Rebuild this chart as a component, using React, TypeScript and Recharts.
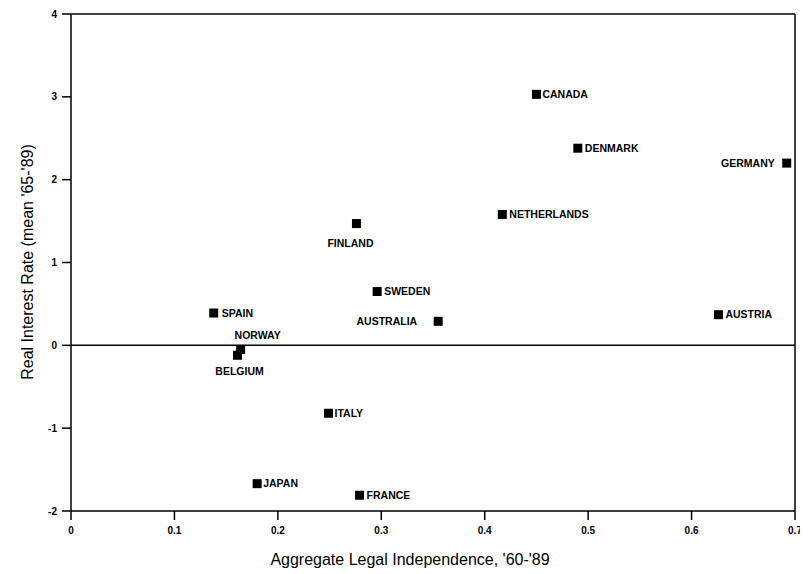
import { ReferenceLine, Scatter, ScatterChart, XAxis, YAxis } from 'recharts';

const countries = ['CANADA', 'DENMARK', 'GERMANY', 'NETHERLANDS', 'FINLAND', 'SWEDEN', 'AUSTRALIA', 'AUSTRIA', 'SPAIN', 'NORWAY', 'BELGIUM', 'ITALY', 'JAPAN', 'FRANCE'];
const independence = [0.45, 0.49, 0.692, 0.417, 0.276, 0.296, 0.355, 0.626, 0.138, 0.164, 0.161, 0.249, 0.18, 0.279];
const realRate = [3.03, 2.38, 2.2, 1.58, 1.47, 0.65, 0.29, 0.37, 0.39, -0.05, -0.12, -0.82, -1.67, -1.81];
const xTicks = [0, 0.1, 0.2, 0.3, 0.4, 0.5, 0.6, 0.7];
const yTicks = [-2, -1, 0, 1, 2, 3, 4];

const rows = countries.map((name, i) => ({ name, x: independence[i], y: realRate[i] }));

// where each country's label sits relative to its marker
const placement: Record<string, { dx: number; dy: number; anchor: 'start' | 'middle' | 'end' }> = {
  CANADA: { dx: 6, dy: 0, anchor: 'start' },
  DENMARK: { dx: 7, dy: 0, anchor: 'start' },
  GERMANY: { dx: -12, dy: 0, anchor: 'end' },
  NETHERLANDS: { dx: 7, dy: 0, anchor: 'start' },
  FINLAND: { dx: -6, dy: 20, anchor: 'middle' },
  SWEDEN: { dx: 7, dy: 0, anchor: 'start' },
  AUSTRALIA: { dx: -21, dy: 0, anchor: 'end' },
  AUSTRIA: { dx: 7, dy: 0, anchor: 'start' },
  SPAIN: { dx: 8, dy: 0, anchor: 'start' },
  NORWAY: { dx: -6, dy: -14, anchor: 'start' },
  BELGIUM: { dx: 2, dy: 16, anchor: 'middle' },
  ITALY: { dx: 6, dy: 0, anchor: 'start' },
  JAPAN: { dx: 6, dy: 0, anchor: 'start' },
  FRANCE: { dx: 7, dy: 0, anchor: 'start' },
};

const font = 'Liberation Sans, Arial, Helvetica, sans-serif';

function CountryMark(props: any) {
  const { cx, cy, payload } = props;
  const p = placement[payload.name];
  return (
    <g>
      <rect x={cx - 4.5} y={cy - 4.5} width={9} height={9} fill="#000" />
      <text x={cx + p.dx} y={cy + p.dy + 3.8} textAnchor={p.anchor} fontSize={10.5} fontWeight="bold" fontFamily={font} fill="#000">
        {payload.name}
      </text>
    </g>
  );
}

const tickStyle = { fontSize: 10, fontWeight: 'bold', fill: '#000', fontFamily: font };
const axisLine = { stroke: '#000', strokeWidth: 1.5 };

export default function App() {
  return (
    <ScatterChart width={800} height={566} margin={{ top: 6, right: 13, bottom: 0, left: 0 }}>
      <XAxis
        type="number"
        dataKey="x"
        domain={[0, 0.7]}
        ticks={xTicks}
        tickFormatter={(v: number) => (v === 0 ? '0' : v.toFixed(1))}
        tick={tickStyle}
        tickSize={9}
        tickMargin={7}
        axisLine={axisLine}
        tickLine={axisLine}
        height={63}
        label={{
          content: () => (
            <text x={402} y={557} textAnchor="middle" fontSize={16} fontFamily={font} fill="#000">
              Aggregate Legal Independence, '60-'89
            </text>
          ),
        }}
      />
      <YAxis
        type="number"
        dataKey="y"
        domain={[-2, 4]}
        ticks={yTicks}
        tick={tickStyle}
        tickSize={9}
        tickMargin={5}
        axisLine={axisLine}
        tickLine={axisLine}
        width={63}
        label={{
          content: () => (
            <text x={25} y={254} transform="rotate(-90 25 254)" textAnchor="middle" fontSize={16} fontFamily={font} fill="#000">
              Real Interest Rate (mean '65-'89)
            </text>
          ),
        }}
      />
      <ReferenceLine y={4} stroke="#000" strokeWidth={1.5} />
      <ReferenceLine x={0.7} stroke="#000" strokeWidth={1.5} />
      <ReferenceLine y={0} stroke="#000" strokeWidth={1.5} />
      <Scatter data={rows} shape={CountryMark} isAnimationActive={false} />
    </ScatterChart>
  );
}
